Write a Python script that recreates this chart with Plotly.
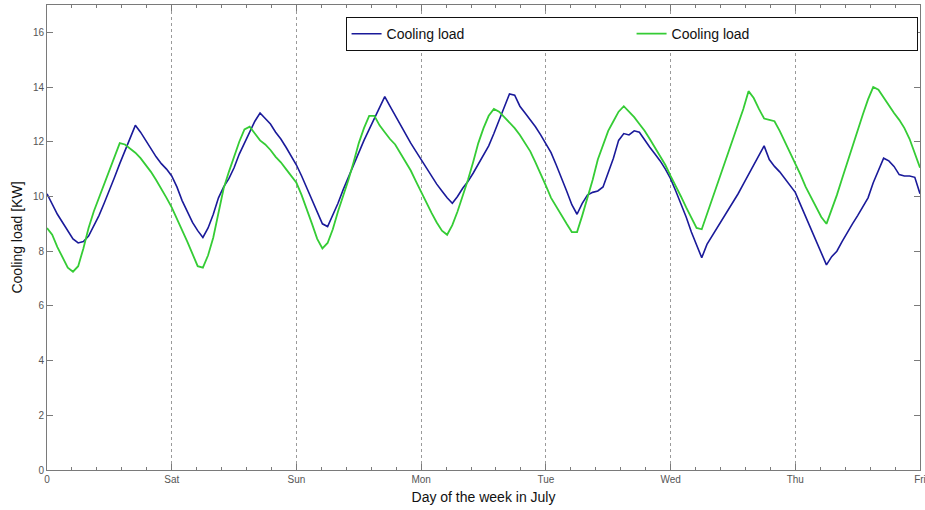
import plotly.graph_objects as go

# Hourly timestamps (hours since the start of the week shown)
hours = list(range(169))

day_ticks = [0, 24, 48, 72, 96, 120, 144, 168]
day_labels = ["0", "Sat", "Sun", "Mon", "Tue", "Wed", "Thu", "Fri"]
y_ticks = [0, 2, 4, 6, 8, 10, 12, 14, 16]

series_names = ["Cooling load", "Cooling load"]

load_blue = [
    # day 0
    10.10, 9.70, 9.35, 9.05, 8.75, 8.45, 8.30, 8.35, 8.55, 8.90, 9.30, 9.75,
    10.20, 10.70, 11.20, 11.65, 12.10, 12.60, 12.35, 12.05, 11.75, 11.45, 11.20, 11.00,
    # Sat
    10.75, 10.35, 9.85, 9.45, 9.05, 8.75, 8.50, 8.85, 9.35, 9.95, 10.35, 10.65,
    11.05, 11.55, 11.95, 12.40, 12.75, 13.05, 12.85, 12.65, 12.35, 12.10, 11.80, 11.50,
    # Sun
    11.15, 10.75, 10.30, 9.90, 9.45, 9.00, 8.90, 9.30, 9.75, 10.25, 10.70, 11.20,
    11.65, 12.05, 12.45, 12.85, 13.25, 13.65, 13.30, 12.95, 12.65, 12.30, 11.95, 11.65,
    # Mon
    11.35, 11.00, 10.75, 10.45, 10.20, 9.95, 9.75, 10.00, 10.30, 10.55, 10.85, 11.20,
    11.55, 11.85, 12.30, 12.80, 13.30, 13.75, 13.70, 13.30, 13.05, 12.80, 12.55, 12.25,
    # Tue
    11.95, 11.60, 11.15, 10.70, 10.20, 9.70, 9.35, 9.75, 10.05, 10.15, 10.20, 10.35,
    10.85, 11.40, 12.05, 12.30, 12.25, 12.40, 12.35, 12.05, 11.80, 11.55, 11.30, 11.00,
    # Wed
    10.65, 10.20, 9.75, 9.25, 8.70, 8.20, 7.76, 8.25, 8.55, 8.90, 9.20, 9.50,
    9.80, 10.10, 10.45, 10.80, 11.15, 11.55, 11.85, 11.35, 11.10, 10.90, 10.65, 10.40,
    # Thu
    10.15, 9.70, 9.25, 8.80, 8.40, 7.95, 7.50, 7.80, 8.00, 8.35, 8.70, 9.00,
    9.30, 9.60, 9.95, 10.50, 10.95, 11.40, 11.30, 11.10, 10.80, 10.75, 10.75, 10.70,
    # Fri
    10.10,
]

load_green = [
    # day 0
    8.85, 8.60, 8.15, 7.75, 7.40, 7.25, 7.45, 8.10, 8.85, 9.45, 9.95, 10.45,
    10.95, 11.50, 11.95, 11.90, 11.75, 11.60, 11.40, 11.15, 10.90, 10.60, 10.30, 9.95,
    # Sat
    9.60, 9.20, 8.80, 8.35, 7.90, 7.45, 7.40, 7.85, 8.50, 9.45, 10.30, 10.90,
    11.45, 12.00, 12.45, 12.55, 12.30, 12.05, 11.90, 11.70, 11.45, 11.25, 11.00, 10.75,
    # Sun
    10.50, 10.05, 9.55, 9.00, 8.45, 8.10, 8.30, 8.80, 9.45, 10.00, 10.60, 11.25,
    11.95, 12.50, 12.95, 12.95, 12.60, 12.35, 12.10, 11.90, 11.60, 11.30, 10.95, 10.55,
    # Mon
    10.15, 9.75, 9.40, 9.05, 8.75, 8.60, 8.95, 9.45, 10.00, 10.60, 11.25, 11.95,
    12.50, 12.95, 13.20, 13.10, 12.90, 12.70, 12.50, 12.25, 11.95, 11.65, 11.25, 10.85,
    # Tue
    10.40, 9.95, 9.65, 9.35, 9.00, 8.70, 8.70, 9.30, 9.95, 10.60, 11.35, 11.90,
    12.40, 12.75, 13.10, 13.30, 13.10, 12.90, 12.65, 12.40, 12.10, 11.80, 11.50, 11.15,
    # Wed
    10.75, 10.40, 10.00, 9.60, 9.20, 8.85, 8.80, 9.35, 9.95, 10.50, 11.00, 11.55,
    12.10, 12.65, 13.20, 13.85, 13.60, 13.20, 12.85, 12.80, 12.75, 12.40, 12.00, 11.65,
    # Thu
    11.25, 10.80, 10.35, 10.00, 9.60, 9.25, 9.00, 9.50, 10.05, 10.65, 11.25, 11.85,
    12.45, 13.00, 13.55, 14.00, 13.90, 13.60, 13.35, 13.05, 12.80, 12.50, 12.10, 11.60,
    # Fri
    11.05,
]

BLUE = "#1a1a9a"
GREEN = "#35cc35"
AXIS = "#7a7a7a"

fig = go.Figure()
fig.add_trace(go.Scatter(x=hours, y=load_blue, mode="lines", name=series_names[0],
                         line=dict(color=BLUE, width=1.6)))
fig.add_trace(go.Scatter(x=hours, y=load_green, mode="lines", name=series_names[1],
                         line=dict(color=GREEN, width=1.8)))

fig.update_layout(
    width=925, height=510, autosize=False,
    margin=dict(l=47, r=5, t=5, b=40, autoexpand=False),
    paper_bgcolor="white", plot_bgcolor="white",
    font=dict(family="Arial, Liberation Sans, sans-serif", color="#222"),
    showlegend=True,
    legend=dict(
        orientation="h", x=0.342, y=0.974, xanchor="left", yanchor="top",
        bgcolor="white", bordercolor="#111", borderwidth=1,
        font=dict(size=14, color="#111"),
        entrywidth=240, entrywidthmode="pixels",
    ),
    xaxis=dict(
        range=[0, 168], tickvals=day_ticks, ticktext=day_labels,
        ticks="inside", ticklen=6, tickcolor=AXIS, tickwidth=1,
        showline=True, linecolor=AXIS, linewidth=1, mirror="ticks",
        showgrid=True, gridcolor="#9a9a9a", griddash="dot", gridwidth=1,
        zeroline=False, automargin=False, ticklabeloverflow="allow",
        minor=dict(dtick=4.8, tick0=0, ticks="inside", ticklen=3, tickcolor=AXIS, showgrid=False),
        tickfont=dict(size=10, color="#555"),
        title=dict(text="Day of the week in July", font=dict(size=14, color="#111"), standoff=8),
    ),
    yaxis=dict(
        range=[0, 17], tickvals=y_ticks,
        ticks="inside", ticklen=6, tickcolor=AXIS, tickwidth=1,
        showline=True, linecolor=AXIS, linewidth=1, mirror="ticks",
        showgrid=False, zeroline=False, automargin=False,
        tickfont=dict(size=10, color="#555"),
        title=dict(text="Cooling load [KW]", font=dict(size=14, color="#111"), standoff=6),
    ),
)

fig.write_html(
    "out.html",
    config={"displayModeBar": False, "responsive": False},
    post_script="document.body.style.margin='0';document.body.style.overflow='hidden';",
)
